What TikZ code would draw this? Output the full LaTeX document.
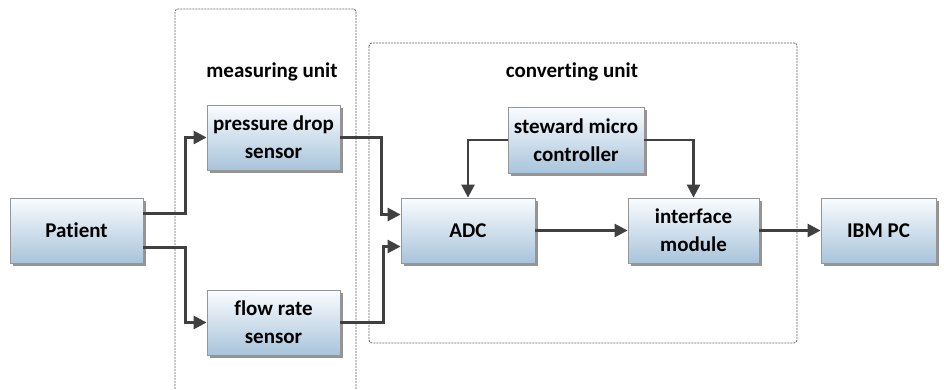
\documentclass[tikz,border=0pt]{standalone}
\usepackage{fontspec}
\setmainfont[Ligatures=NoCommon]{Carlito}
\usetikzlibrary{arrows.meta,shadows,calc}
\definecolor{boxbottom}{RGB}{168,196,219}
\definecolor{boxtop}{RGB}{250,252,255}
\definecolor{boxedge}{RGB}{150,150,150}
\definecolor{wire}{RGB}{64,64,64}
\definecolor{frame}{RGB}{95,95,95}
\tikzset{
  block/.style={draw=boxedge, line width=0.8pt, top color=boxtop, bottom color=boxbottom,
    minimum height=65pt, align=center, font=\fontsize{21}{28}\selectfont\bfseries,
    inner sep=2pt,
    drop shadow={shadow xshift=2.5pt, shadow yshift=-2.5pt, fill=black!70, opacity=0.6}},
  wirearrow/.style={draw=wire, line width=2.6pt, -{Triangle[length=13pt,width=13pt]}},
  unitframe/.style={draw=frame, line width=0.8pt, dash pattern=on 2pt off 1pt, rounded corners=3pt},
  unitlabel/.style={font=\fontsize{21}{25}\selectfont\bfseries}
}
\begin{document}
\begin{tikzpicture}[x=1pt,y=-1pt]
\useasboundingbox (0,0) rectangle (944,389);

% unit frames
\draw[unitframe] (175,395) -- (175,9) -- (356,9) -- (356,395);
\draw[unitframe] (369,43) rectangle (797,343);
\node[unitlabel] (mlabel) at (272,72) {measuring unit};
\node[unitlabel] (clabel) at (572,72) {converting unit};

% blocks
\node[block, minimum width=133pt] (patient) at (76.5,230.5) {Patient};
\node[block, minimum width=133pt] (pd) at (273.5,137.5) {pressure drop\\sensor};
\node[block, minimum width=133pt] (fr) at (273.5,322.5) {flow rate\\sensor};
\node[block, minimum width=134pt] (adc) at (468,230.5) {ADC};
\node[block, minimum width=136pt, minimum height=66pt] (ctrl) at (576,140) {steward micro\\controller};
\node[block, minimum width=131pt] (iface) at (693.5,230.5) {interface\\module};
\node[block, minimum width=115pt] (ibm) at (878.5,230.5) {IBM PC};

% connections
\draw[wirearrow] ([yshift=17pt]patient.east) -- ++(42,0) |- (pd.west);
\draw[wirearrow] ([yshift=-17pt]patient.east) -- ++(42,0) |- (fr.west);
\draw[wirearrow] (pd.east) -- ++(41,0) |- ([yshift=16pt]adc.west);
\draw[wirearrow] (fr.east) -- ++(43,0) |- ([yshift=-16pt]adc.west);
\draw[wirearrow] (ctrl.west) -| (adc.north);
\draw[wirearrow] (ctrl.east) -| (iface.north);
\draw[wirearrow] (adc.east) -- (iface.west);
\draw[wirearrow] (iface.east) -- (ibm.west);
\end{tikzpicture}
\end{document}
